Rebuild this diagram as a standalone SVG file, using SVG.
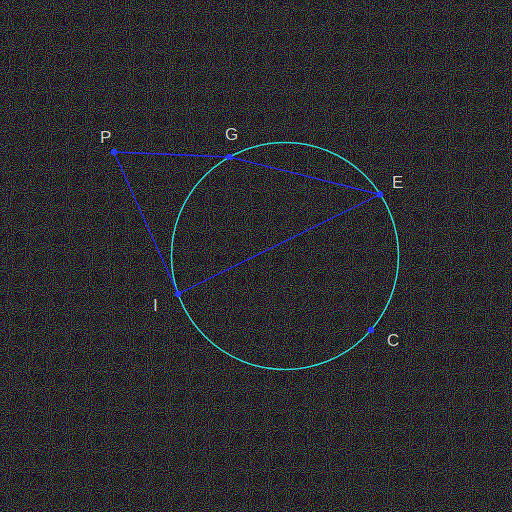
<svg xmlns="http://www.w3.org/2000/svg" width="512" height="512" viewBox="0 0 512 512">
<defs>
<filter id="noise" x="0" y="0" width="100%" height="100%">
<feTurbulence type="fractalNoise" baseFrequency="0.95" numOctaves="1" seed="3" result="t"/>
<feColorMatrix type="matrix" values="1.6 0 0 0 -0.75  0 1.6 0 0 -0.75  0 0 1.6 0 -0.75  0 0 0 0 1"/>
</filter>
<style>
.seg{stroke:#2a2aff;stroke-width:1.3;fill:none}
.circ{stroke:#30e0d8;stroke-width:1.6;fill:none}
.pt{fill:#2a3cff}
.lbl{font-family:"Liberation Sans",Arial,sans-serif;font-size:17px;fill:#d0d0c8}
</style>
</defs>
<rect width="512" height="512" fill="#121212"/>
<rect width="512" height="512" filter="url(#noise)" opacity="0.55"/>
<g id="circle"><circle class="circ" cx="285" cy="256" r="113.5"/></g>
<g id="connectors">
<line class="seg" x1="114" y1="152" x2="229.5" y2="157"/>
<line class="seg" x1="229.5" y1="157" x2="380" y2="194.5"/>
<line class="seg" x1="380" y1="194.5" x2="178" y2="294"/>
<line class="seg" x1="178" y1="294" x2="114" y2="152"/>
</g>
<g id="P"><circle class="pt" cx="114" cy="152" r="3.3"/><text class="lbl" x="100" y="143">P</text></g>
<g id="G"><circle class="pt" cx="229.5" cy="157" r="3.3"/><text class="lbl" x="225" y="140">G</text></g>
<g id="E"><circle class="pt" cx="380" cy="194.5" r="3.3"/><text class="lbl" x="392" y="188">E</text></g>
<g id="I"><circle class="pt" cx="178" cy="294" r="3.3"/><text class="lbl" x="153" y="311">I</text></g>
<g id="C"><circle class="pt" cx="371" cy="330" r="3.3"/><text class="lbl" x="387" y="346">C</text></g>
</svg>
